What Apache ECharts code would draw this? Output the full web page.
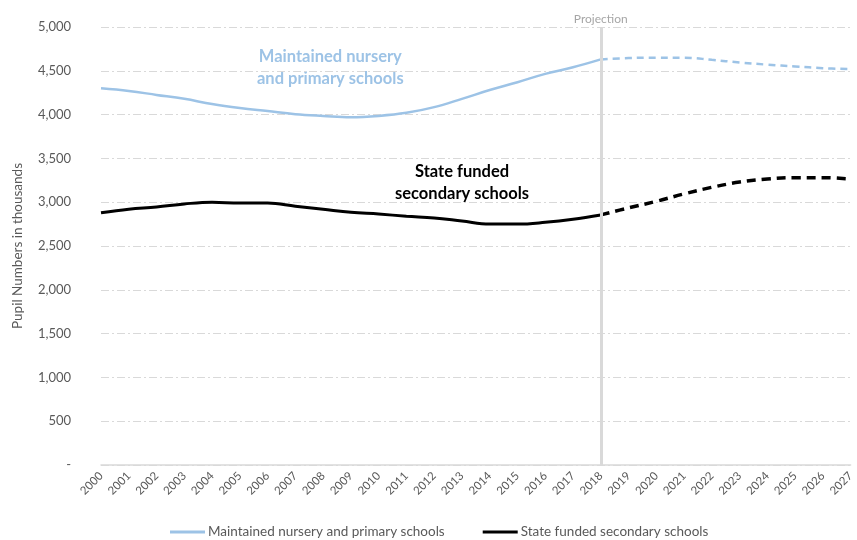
<!DOCTYPE html>
<html>
<head>
<meta charset="utf-8">
<script src="https://cdn.jsdelivr.net/npm/echarts@6/dist/echarts.min.js"></script>
<style>
  html, body { margin: 0; padding: 0; background: #fff; }
  #chart { width: 857px; height: 540px; }
</style>
</head>
<body>
<div id="chart"></div>
<script>
// Pupil numbers (thousands), actuals to 2018 and projections after
var years = ['2000','2001','2002','2003','2004','2005','2006','2007','2008','2009',
             '2010','2011','2012','2013','2014','2015','2016','2017','2018','2019',
             '2020','2021','2022','2023','2024','2025','2026','2027'];

var primaryActual = [4300, 4270, 4225, 4180, 4120, 4075, 4040, 4005, 3985, 3970,
                     3985, 4020, 4085, 4180, 4280, 4370, 4465, 4540, 4630];
var primaryProjected = [4630, 4645, 4650, 4650, 4625, 4595, 4570, 4550, 4530, 4520];

var secondaryActual = [2880, 2920, 2945, 2980, 3000, 2990, 2990, 2955, 2920, 2885,
                       2865, 2840, 2820, 2785, 2750, 2750, 2770, 2805, 2855];
var secondaryProjected = [2855, 2935, 3010, 3095, 3170, 3230, 3265, 3280, 3280, 3265];

var projectionStart = '2018';
var yTicks = [0, 500, 1000, 1500, 2000, 2500, 3000, 3500, 4000, 4500, 5000];

var primaryName = 'Maintained nursery and primary schools';
var secondaryName = 'State funded secondary schools';
var primaryColor = '#9dc3e6';
var textFont = 'Lato';

// Projected values sit on the tail of the axis, so pad the front with gaps
function tail(values) {
  var out = [];
  for (var i = 0; i < years.length - values.length; i++) out.push('-');
  return out.concat(values);
}

var chart = echarts.init(document.getElementById('chart'));
chart.setOption({
  animation: false,
  textStyle: { fontFamily: textFont },
  grid: { left: 101, right: 3, top: 27, bottom: 75 },
  legend: {
    data: [primaryName, secondaryName],
    bottom: -4,
    left: 165,
    icon: 'rect',
    itemWidth: 35,
    itemHeight: 3,
    itemGap: 38,
    textStyle: { color: '#595959', fontSize: 13.5, fontFamily: textFont, padding: [0, 0, 0, -2] }
  },
  xAxis: {
    type: 'category',
    data: years,
    boundaryGap: false,
    axisLine: { lineStyle: { color: '#d9d9d9', width: 1.5 } },
    axisTick: { show: false },
    axisLabel: { rotate: 45, color: '#595959', fontSize: 11.5, margin: 9, interval: 0 }
  },
  yAxis: {
    type: 'value',
    min: yTicks[0],
    max: yTicks[yTicks.length - 1],
    interval: 500,
    name: 'Pupil Numbers in thousands',
    nameLocation: 'middle',
    nameGap: 76,
    nameTextStyle: { color: '#595959', fontSize: 13.5, fontFamily: textFont },
    axisLine: { show: false },
    axisTick: { show: false },
    splitLine: { lineStyle: { color: '#d9d9d9', type: [8, 3, 2, 3], width: 1 } },
    axisLabel: {
      color: '#595959',
      fontSize: 13,
      margin: 30,
      formatter: function (v) { return v === 0 ? '-' : v.toLocaleString('en-GB'); }
    }
  },
  series: [
    {
      name: primaryName,
      type: 'line',
      data: primaryActual,
      smooth: 0.4,
      symbol: 'none',
      lineStyle: { color: primaryColor, width: 2.5 },
      itemStyle: { color: primaryColor },
      z: 3,
      markLine: {
        silent: true,
        symbol: 'none',
        lineStyle: { color: '#d9d9d9', width: 3, type: 'solid' },
        label: {
          show: true,
          position: 'end',
          formatter: 'Projection',
          color: '#a6a6a6',
          fontSize: 12,
          fontFamily: textFont,
          distance: 2
        },
        data: [{ xAxis: projectionStart }]
      }
    },
    {
      name: primaryName + ' (projected)',
      type: 'line',
      data: tail(primaryProjected),
      smooth: 0.4,
      symbol: 'none',
      lineStyle: { color: primaryColor, width: 2.5, type: [7, 5] },
      z: 3
    },
    {
      name: secondaryName,
      type: 'line',
      data: secondaryActual,
      smooth: 0.4,
      symbol: 'none',
      lineStyle: { color: '#000000', width: 3 },
      itemStyle: { color: '#000000' },
      z: 4
    },
    {
      name: secondaryName + ' (projected)',
      type: 'line',
      data: tail(secondaryProjected),
      smooth: 0.4,
      symbol: 'none',
      lineStyle: { color: '#000000', width: 3.5, type: [9, 6] },
      z: 4
    }
  ],
  graphic: [
    {
      type: 'text',
      left: 257, top: 46,
      style: {
        text: 'Maintained nursery\nand primary schools',
        fill: primaryColor,
        font: 'bold 16.5px ' + textFont,
        lineHeight: 22,
        textAlign: 'center'
      }
    },
    {
      type: 'text',
      left: 395, top: 161,
      style: {
        text: 'State funded\nsecondary schools',
        fill: '#000000',
        font: 'bold 16.5px ' + textFont,
        lineHeight: 22,
        textAlign: 'center'
      }
    }
  ]
});
</script>
</body>
</html>
